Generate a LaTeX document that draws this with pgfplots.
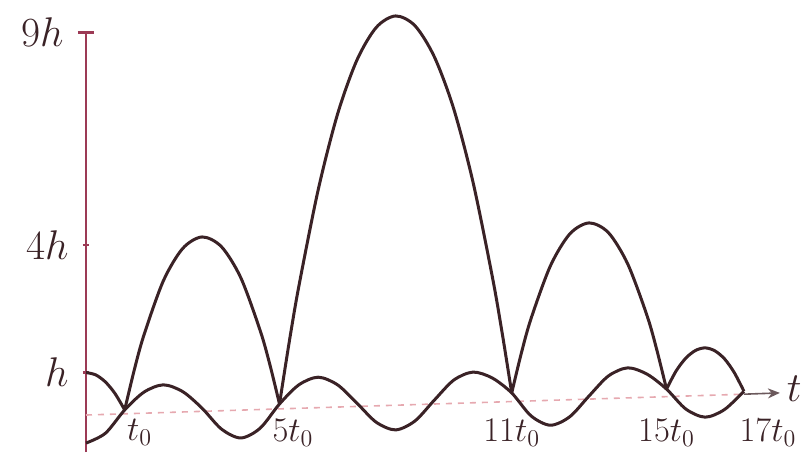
\documentclass[border=0pt]{standalone}
\usepackage{pgfplots}
\pgfplotsset{compat=1.18}
\usetikzlibrary{arrows.meta}
\definecolor{ink}{HTML}{3A2226}
\definecolor{axisred}{HTML}{9C3A55}
\definecolor{pinkline}{HTML}{E6A9B0}
\begin{document}
\begin{tikzpicture}
\begin{axis}[
  x=19.35pt, y=21.25pt,
  xmin=0, xmax=18.4, ymin=-0.8706, ymax=9,
  clip=false,
  axis x line=middle, axis y line=left,
  x axis line style={draw=none},
  y axis line style={axisred, line width=1.3pt, -},
  tick align=center,
  xtick={1,5,11,15,17},
  xticklabels={\hspace{15pt}$t_0$,\hspace{13.5pt}$5t_0$,$11t_0$,$15t_0$,\hspace{24pt}$17t_0$},
  xtick style={draw=none},
  xticklabel style={anchor=north, yshift=3pt, inner sep=1pt, text=ink, font=\fontsize{18}{20}\selectfont},
  ytick={9},
  yticklabels={$9h$},
  ytick style={axisred, line width=1.2pt},
  major tick length=8pt,
  extra y ticks={1,4},
  extra y tick labels={$h$,$4h$},
  extra y tick style={major tick length=3pt, ytick style={axisred, line width=1.2pt}},
  yticklabel style={inner sep=1pt, xshift=-6pt, text=ink, font=\fontsize{20}{24}\selectfont},
]
\addplot[pinkline, dashed, line width=0.8pt] coordinates {(0,0) (17,0.49)};
\addplot[ink!75, line width=0.8pt, -{Stealth[length=6pt,width=5pt]}] coordinates {(17,0.49) (17.93,0.52)};
% oscillating curve
\addplot[ink, line width=1.5pt, smooth] coordinates {
(0,-0.66)(0.5,-0.43)(1,0.12)(1.5,0.54)(2,0.71)(2.5,0.55)(3,0.16)(3.5,-0.33)(4,-0.54)(4.5,-0.31)
(5,0.26)(5.5,0.71)(6,0.89)(6.5,0.71)(7,0.28)(7.5,-0.17)(8,-0.35)(8.5,-0.14)(9,0.35)(9.5,0.82)
(10,1.01)(10.5,0.87)(11,0.52)(11.5,-0.02)(12,-0.24)(12.5,-0.04)(13,0.45)(13.5,0.92)(14,1.11)
(14.5,0.96)(15,0.61)(15.5,0.14)(16,-0.05)(16.5,0.13)(17,0.56)};
% arches
\addplot[ink, line width=1.5pt, smooth] coordinates {(0,1.0)(0.25,0.945)(0.5,0.78)(0.75,0.505)(1,0.12)};
\addplot[ink, line width=1.5pt, smooth] coordinates {(1,0.12)(1.25,1.07)(1.5,1.89)(2,3.16)(2.5,3.92)(3,4.19)(3.5,3.96)(4,3.23)(4.5,1.99)(4.75,1.19)(5,0.26)};
\addplot[ink, line width=1.5pt, smooth] coordinates {(5,0.26)(5.25,1.71)(5.5,3.03)(6,5.30)(6.5,7.08)(7,8.35)(7.5,9.12)(8,9.39)(8.5,9.16)(9,8.43)(9.5,7.21)(10,5.48)(10.5,3.25)(10.75,1.95)(11,0.52)};
\addplot[ink, line width=1.5pt, smooth] coordinates {(11,0.52)(11.25,1.46)(11.5,2.27)(12,3.51)(12.5,4.26)(13,4.52)(13.5,4.29)(14,3.55)(14.5,2.33)(14.75,1.53)(15,0.61)};
\addplot[ink, line width=1.5pt, smooth] coordinates {(15,0.61)(15.25,1.04)(15.5,1.34)(15.75,1.52)(16,1.58)(16.25,1.51)(16.5,1.32)(16.75,1.00)(17,0.56)};
\node[anchor=west, inner sep=1pt, text=ink, font=\fontsize{20}{24}\selectfont] at (axis cs:18.05,0.62) {$t$};
\coordinate (BL) at (axis cs:-2.222,-0.8706);
\coordinate (TR) at (axis cs:18.475,9.765);
\end{axis}
\pgfresetboundingbox
\path[use as bounding box] (BL) rectangle (TR);
\end{tikzpicture}
\end{document}
